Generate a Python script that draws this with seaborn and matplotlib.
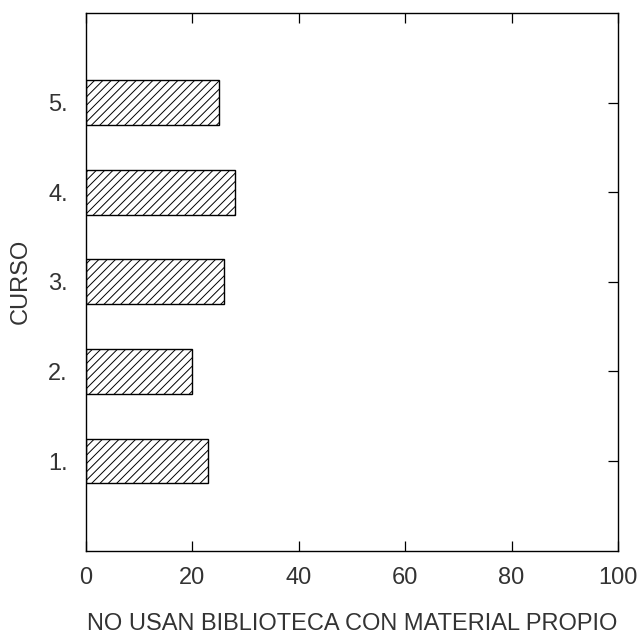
import matplotlib
matplotlib.use("Agg")
import matplotlib.pyplot as plt
import pandas as pd
import seaborn as sns

# --- Data ---
cursos = ["1.", "2.", "3.", "4.", "5."]
porcentajes = [23, 20, 26, 28, 25]
x_ticks = [0, 20, 40, 60, 80, 100]

df = pd.DataFrame({"curso": cursos, "pct": porcentajes})

sns.set_theme(style="white")
plt.rcParams["font.family"] = ["Liberation Sans", "DejaVu Sans"]
plt.rcParams["hatch.linewidth"] = 0.7
plt.rcParams["hatch.color"] = "black"

fig = plt.figure(figsize=(6.4, 6.34), dpi=100)
ax = fig.add_axes([0.1344, 0.1314, 0.8312, 0.8481])

sns.barplot(data=df, x="pct", y="curso", order=cursos[::-1], orient="h",
            color="white", edgecolor="black", linewidth=1.0, hatch="////",
            width=0.5, saturation=1, ax=ax)

ax.set_xlim(0, 100)
ax.set_xticks(x_ticks)
ax.set_ylim(len(cursos), -1)

for s in ax.spines.values():
    s.set_visible(True)
    s.set_color("black")
    s.set_linewidth(1.0)

ax.tick_params(axis="both", direction="in", length=7.5, width=0.9, color="black",
               top=True, right=True, left=True, bottom=True, labelsize=17,
               labelcolor="#333333")
ax.tick_params(axis="x", pad=12)
ax.tick_params(axis="y", pad=13)

ax.set_xlabel("NO USAN BIBLIOTECA CON MATERIAL PROPIO", fontsize=17, labelpad=17,
              color="#333333")
ax.set_ylabel("CURSO", fontsize=17, labelpad=12, color="#333333")

fig.savefig("out.png", dpi=100, facecolor="white")
